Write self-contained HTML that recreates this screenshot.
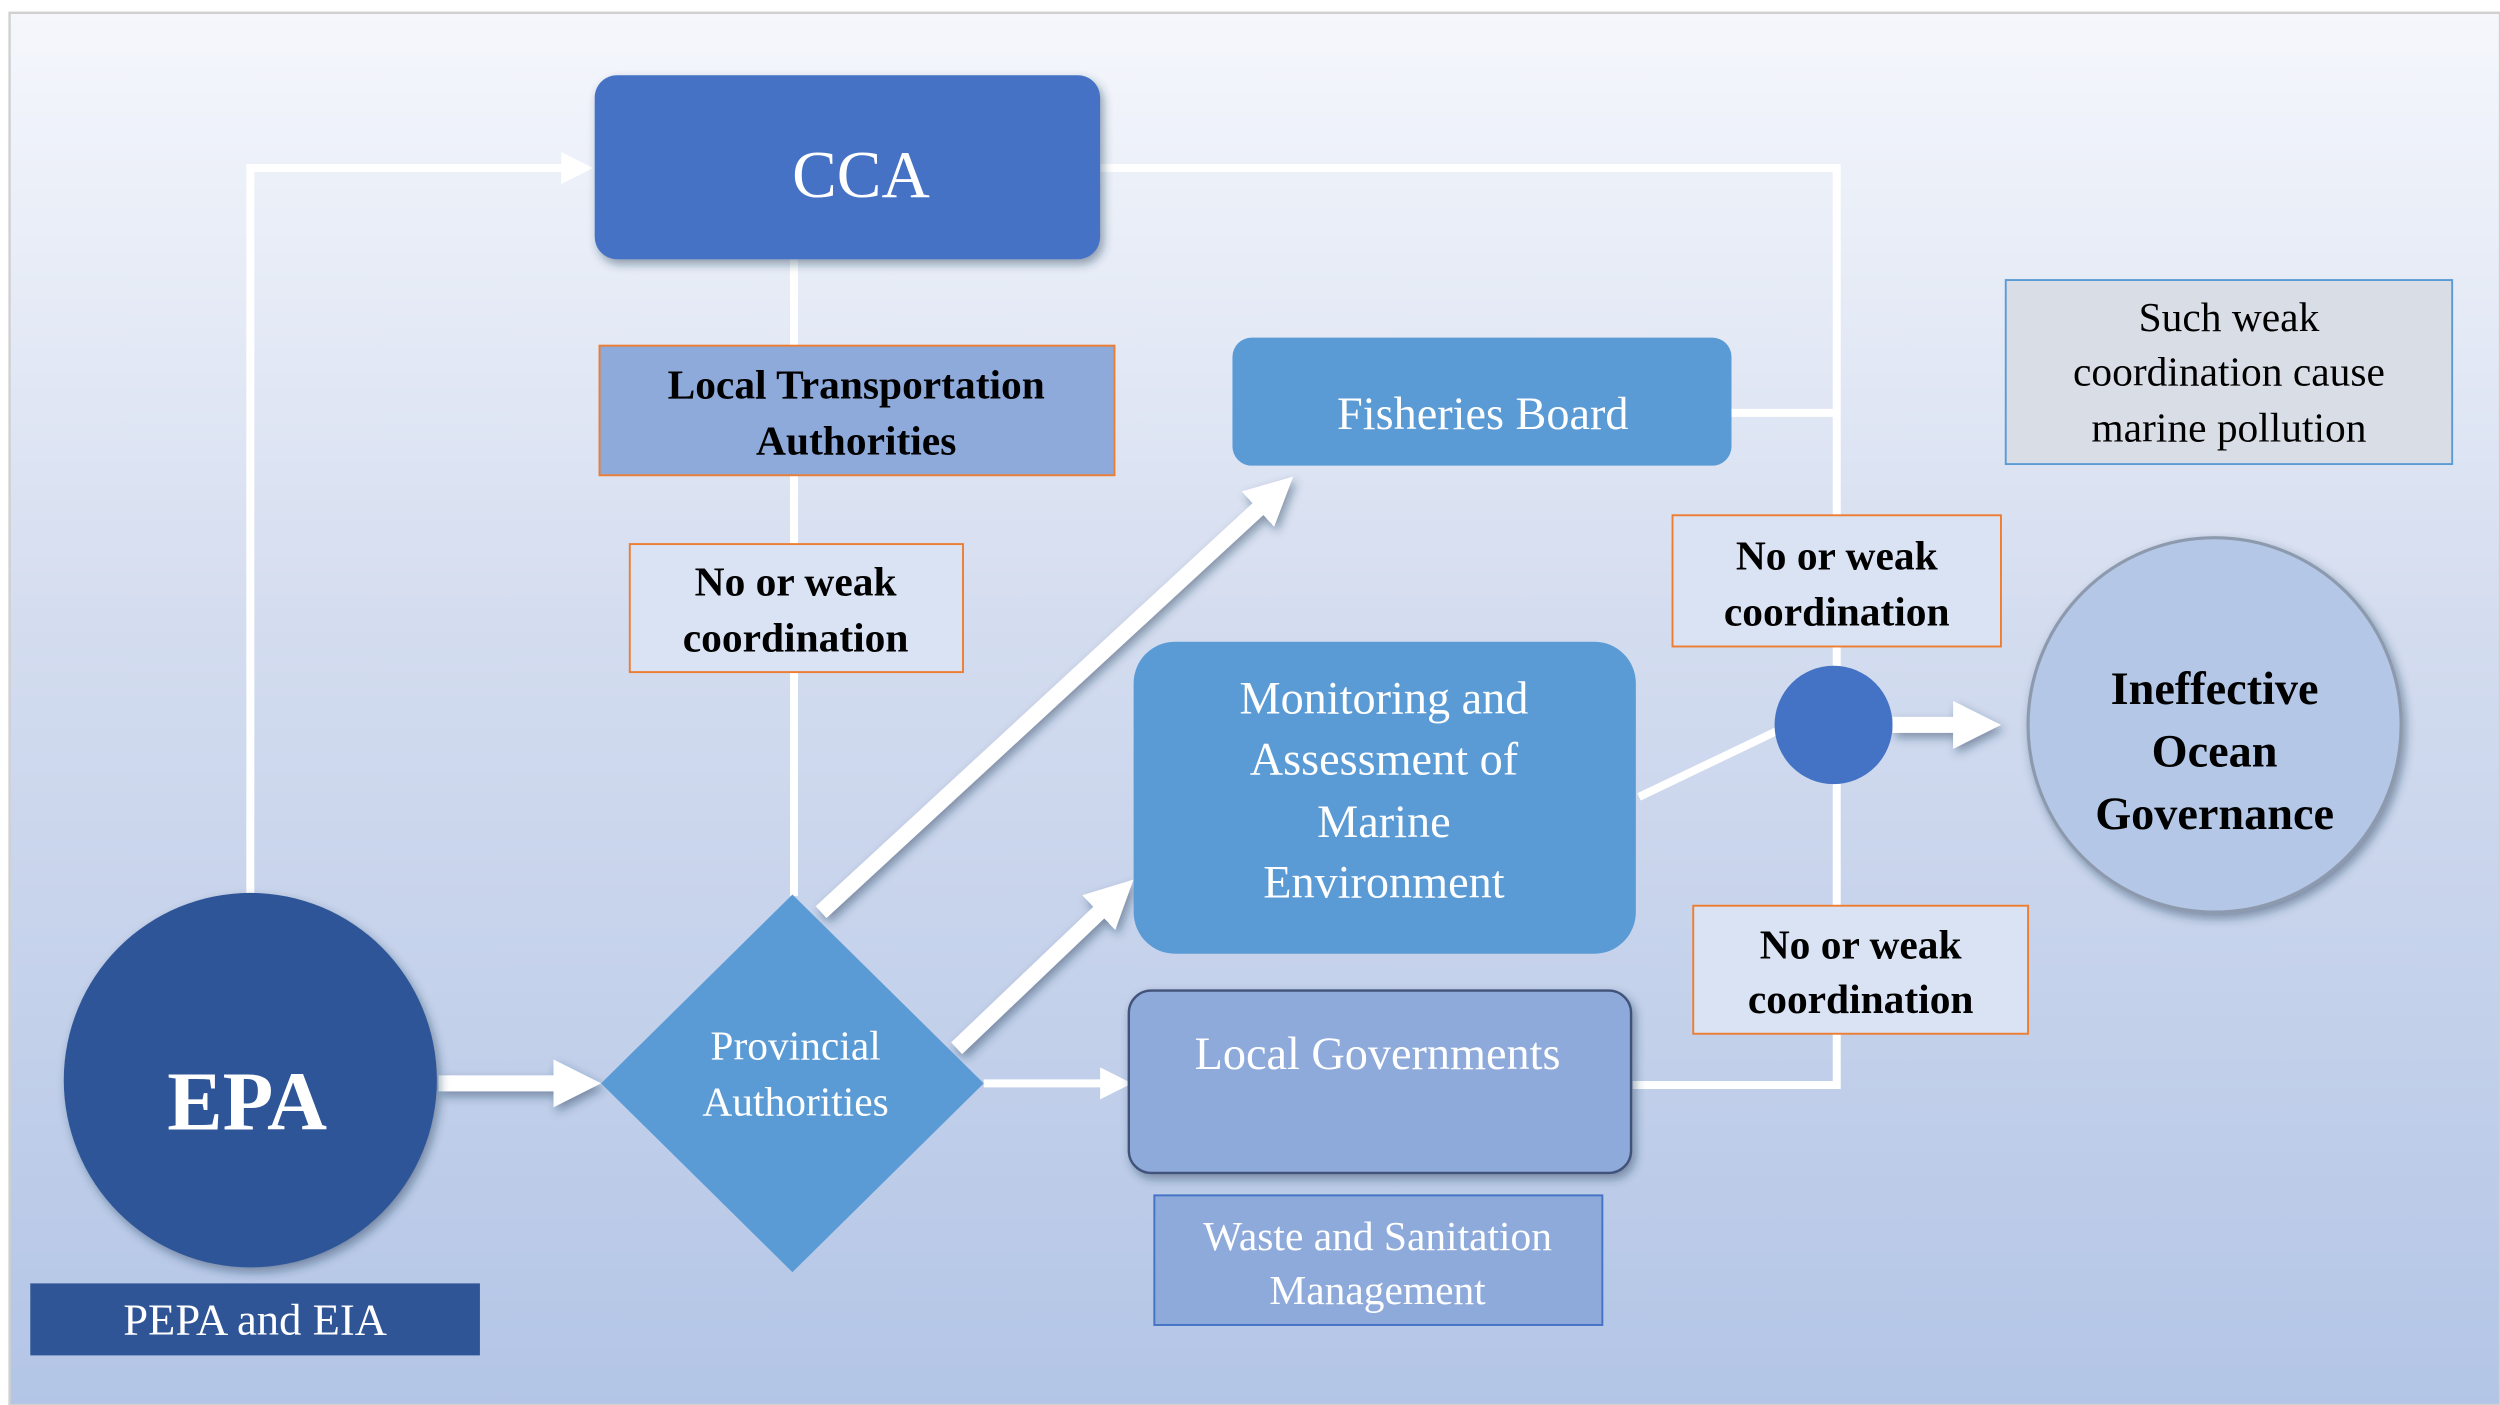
<!DOCTYPE html>
<html><head><meta charset="utf-8"><style>
html,body{margin:0;padding:0;background:#fff;}
svg{display:block;}
text{font-family:"Liberation Serif",serif;}
</style></head><body>
<svg width="2500" height="1405" viewBox="0 0 1568 878" preserveAspectRatio="none" xmlns="http://www.w3.org/2000/svg">
<defs>
<linearGradient id="bg" x1="0" y1="0" x2="0" y2="1">
<stop offset="0" stop-color="#f5f7fc"/>
<stop offset="0.45" stop-color="#d3dcef"/>
<stop offset="1" stop-color="#b3c5e6"/>
</linearGradient>
<filter id="sh" x="-20%" y="-20%" width="140%" height="140%">
<feDropShadow dx="2" dy="3" stdDeviation="3" flood-color="#1f3050" flood-opacity="0.45"/>
</filter>
<marker id="ah" markerWidth="4" markerHeight="4" refX="2" refY="2" orient="auto" markerUnits="strokeWidth">
<path d="M0,0 L4,2 L0,4 Z" fill="#fff"/>
</marker>
<marker id="ah2" markerWidth="3" markerHeight="3" refX="1.5" refY="1.5" orient="auto" markerUnits="strokeWidth">
<path d="M0,0 L3,1.5 L0,3 Z" fill="#fff"/>
</marker>
</defs>
<rect x="0" y="0" width="1568" height="878" fill="#fff"/>
<rect x="6" y="8" width="1562" height="870" fill="url(#bg)" stroke="#d0d0d0" stroke-width="1.5"/>

<!-- connectors -->
<g stroke="#fff" fill="none" stroke-width="5">
<path d="M157,560 V105 H362" marker-end="url(#ah)"/>
<path d="M690,105 H1152 V678 H1024"/>
<path d="M1086,258 H1150"/>
<path d="M498,162 V560"/>
<path d="M617,677 H700" marker-end="url(#ah)"/>
<path d="M1028,498 L1114,457"/>
</g>
<g stroke="#fff" fill="none" filter="url(#sh)">
<path d="M275,677 H362" stroke-width="10" marker-end="url(#ah2)"/>
<path d="M600,655 L700,560" stroke-width="10" marker-end="url(#ah2)"/>
<path d="M515,570 L800,308" stroke-width="10" marker-end="url(#ah2)"/>
<path d="M1187,453 H1240" stroke-width="10" marker-end="url(#ah2)"/>
</g>

<!-- CCA -->
<rect x="373" y="47" width="317" height="115" rx="14" fill="#4472c4" filter="url(#sh)"/>
<text x="540" y="123" font-size="42" fill="#fff" text-anchor="middle">CCA</text>

<!-- Local Transportation -->
<rect x="376" y="216" width="323" height="81" fill="#8eaadb" stroke="#ed7d31" stroke-width="1.2"/>
<text x="537" y="249" font-size="26" font-weight="bold" fill="#000" text-anchor="middle">Local Transportation</text>
<text x="537" y="284" font-size="26" font-weight="bold" fill="#000" text-anchor="middle">Authorities</text>

<!-- No or weak 1 -->
<rect x="395" y="340" width="209" height="80" fill="#dae3f3" stroke="#ed7d31" stroke-width="1.2"/>
<text x="499" y="372" font-size="26" font-weight="bold" fill="#000" text-anchor="middle">No or weak</text>
<text x="499" y="407" font-size="26" font-weight="bold" fill="#000" text-anchor="middle">coordination</text>

<!-- Fisheries -->
<rect x="773" y="211" width="313" height="80" rx="12" fill="#5b9bd5"/>
<text x="930" y="268" font-size="29" fill="#fff" text-anchor="middle">Fisheries Board</text>

<!-- Monitoring -->
<rect x="711" y="401" width="315" height="195" rx="26" fill="#5b9bd5"/>
<g font-size="29" fill="#fff" text-anchor="middle">
<text x="868" y="446">Monitoring and</text>
<text x="868" y="484">Assessment of</text>
<text x="868" y="523">Marine</text>
<text x="868" y="561">Environment</text>
</g>

<!-- small circle -->
<circle cx="1150" cy="453" r="37" fill="#4472c4"/>

<!-- Ineffective -->
<circle cx="1389" cy="453" r="117" fill="#b4c7e7" stroke="#8d99ad" stroke-width="2" filter="url(#sh)"/>
<g font-size="29" font-weight="bold" fill="#000" text-anchor="middle">
<text x="1389" y="440">Ineffective</text>
<text x="1389" y="479">Ocean</text>
<text x="1389" y="518">Governance</text>
</g>

<!-- Such weak -->
<rect x="1258" y="175" width="280" height="115" fill="#d9dde6" stroke="#5b9bd5" stroke-width="1.2"/>
<g font-size="26" fill="#000" text-anchor="middle">
<text x="1398" y="207">Such weak</text>
<text x="1398" y="241">coordination cause</text>
<text x="1398" y="276">marine pollution</text>
</g>

<!-- No or weak 2 -->
<rect x="1049" y="322" width="206" height="82" fill="#dae3f3" stroke="#ed7d31" stroke-width="1.2"/>
<text x="1152" y="356" font-size="26" font-weight="bold" fill="#000" text-anchor="middle">No or weak</text>
<text x="1152" y="391" font-size="26" font-weight="bold" fill="#000" text-anchor="middle">coordination</text>

<!-- No or weak 3 -->
<rect x="1062" y="566" width="210" height="80" fill="#dae3f3" stroke="#ed7d31" stroke-width="1.2"/>
<text x="1167" y="599" font-size="26" font-weight="bold" fill="#000" text-anchor="middle">No or weak</text>
<text x="1167" y="633" font-size="26" font-weight="bold" fill="#000" text-anchor="middle">coordination</text>

<!-- Diamond -->
<polygon points="497,559 617,677 497,795 377,677" fill="#5b9bd5"/>
<text x="499" y="662" font-size="26" fill="#fff" text-anchor="middle">Provincial</text>
<text x="499" y="697" font-size="26" fill="#fff" text-anchor="middle">Authorities</text>

<!-- EPA -->
<circle cx="157" cy="675" r="117" fill="#2f5597" filter="url(#sh)"/>
<text x="155" y="706" font-size="52" font-weight="bold" fill="#fff" text-anchor="middle">EPA</text>
<rect x="19" y="802" width="282" height="45" fill="#2f5597"/>
<text x="160" y="834" font-size="28" fill="#fff" text-anchor="middle">PEPA and EIA</text>

<!-- Local Governments -->
<rect x="708" y="619" width="315" height="114" rx="14" fill="#8eaadb" stroke="#42537a" stroke-width="1.5" filter="url(#sh)"/>
<text x="864" y="668" font-size="29" fill="#fff" text-anchor="middle">Local Governments</text>

<!-- Waste -->
<rect x="724" y="747" width="281" height="81" fill="#8eaadb" stroke="#4472c4" stroke-width="1.2"/>
<text x="864" y="781" font-size="26" fill="#fff" text-anchor="middle">Waste and Sanitation</text>
<text x="864" y="815" font-size="26" fill="#fff" text-anchor="middle">Management</text>
</svg>
</body></html>
